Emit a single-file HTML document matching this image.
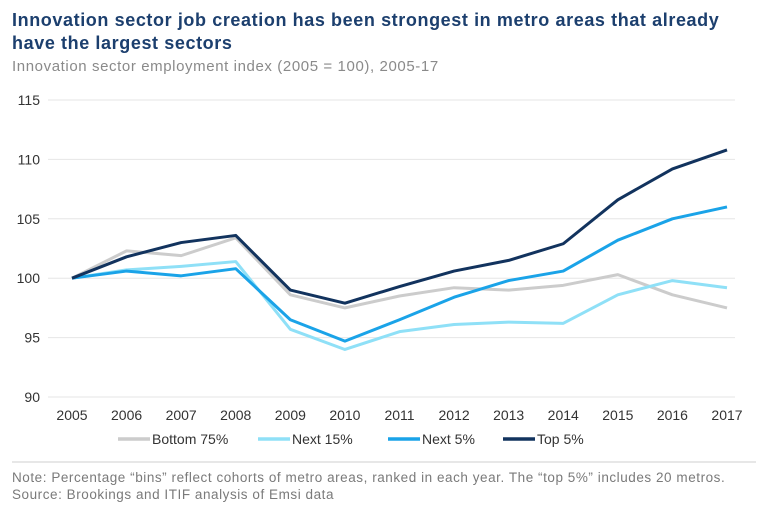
<!DOCTYPE html>
<html><head><meta charset="utf-8">
<style>
body{margin:0;width:768px;height:519px;background:#fff;font-family:"Liberation Sans",sans-serif;overflow:hidden}
#title{position:absolute;left:12px;top:9px;font-size:18px;font-weight:bold;color:#1c3f6e;line-height:23px;letter-spacing:0.6px}
#sub{position:absolute;left:12px;top:58px;font-size:15px;color:#8a8a8a;letter-spacing:0.6px}
#note{position:absolute;left:12px;top:469px;font-size:13.5px;color:#7a7a7a;line-height:17px;letter-spacing:0.55px}
</style></head><body>
<div id="title">Innovation sector job creation has been strongest in metro areas that already<br>have the largest sectors</div>
<div id="sub">Innovation sector employment index (2005 = 100), 2005-17</div>
<svg id="chart" width="768" height="519" style="position:absolute;left:0;top:0"></svg>
<div id="note">Note: Percentage “bins” reflect cohorts of metro areas, ranked in each year. The “top 5%” includes 20 metros.<br>Source: Brookings and ITIF analysis of Emsi data</div>
<script>
const years=[2005,2006,2007,2008,2009,2010,2011,2012,2013,2014,2015,2016,2017];
const yTicks=[90,95,100,105,110,115];
const seriesNames=["Bottom 75%","Next 15%","Next 5%","Top 5%"];
const bottom75=[100,102.3,101.9,103.4,98.6,97.5,98.5,99.2,99.0,99.4,100.3,98.6,97.5];
const next15=[100,100.7,101.0,101.4,95.7,94.0,95.5,96.1,96.3,96.2,98.6,99.8,99.2];
const next5=[100,100.6,100.2,100.8,96.5,94.7,96.5,98.4,99.8,100.6,103.2,105.0,106.0];
const top5=[100,101.8,103.0,103.6,99.0,97.9,99.3,100.6,101.5,102.9,106.6,109.2,110.8];
const colors=["#cccccc","#8fe0f7","#1aa3e8","#12335e"];
const svg=document.getElementById('chart');
const NS="http://www.w3.org/2000/svg";
const x=i=>72+i*(727-72)/(years.length-1);
const y=v=>397-(v-90)*(397-100)/25;
function mk(t,a){const e=document.createElementNS(NS,t);for(const k in a)e.setAttribute(k,a[k]);svg.appendChild(e);return e;}
yTicks.forEach(v=>{
 const l=mk('line',{x1:48,x2:735,y1:y(v),y2:y(v),stroke:'#e6e6e6','stroke-width':1});
 
 
 const t=mk('text',{x:40,y:y(v)+5,'text-anchor':'end','font-size':14,fill:'#333'});t.textContent=v;
 
 
});
years.forEach((yr,i)=>{
 const t=mk('text',{x:x(i),y:420,'text-anchor':'middle','font-size':14,fill:'#333'});t.textContent=yr;
 
 
});
[bottom75,next15,next5,top5].forEach((s,k)=>{
 const p=mk('polyline',{points:s.map((v,i)=>x(i)+','+y(v)).join(' '),fill:'none',stroke:colors[k],'stroke-width':3,'stroke-linejoin':'round'});
 
 
});
const lx=[118,258,388,503];
seriesNames.forEach((n,k)=>{
 const g=mk('g',{});
 
 
 const l=document.createElementNS(NS,'line');
 [['x1',lx[k]],['x2',lx[k]+32],['y1',439],['y2',439],['stroke',colors[k]],['stroke-width',3.5]].forEach(a=>l.setAttribute(a[0],a[1]));
 g.appendChild(l);
 const t=document.createElementNS(NS,'text');
 [['x',lx[k]+34],['y',444],['font-size',14],['fill','#333']].forEach(a=>t.setAttribute(a[0],a[1]));
 t.textContent=n;g.appendChild(t);
});
const sep=mk('line',{x1:12,x2:756,y1:462,y2:462,stroke:'#cfcfcf','stroke-width':1});


</script>
</body></html>
